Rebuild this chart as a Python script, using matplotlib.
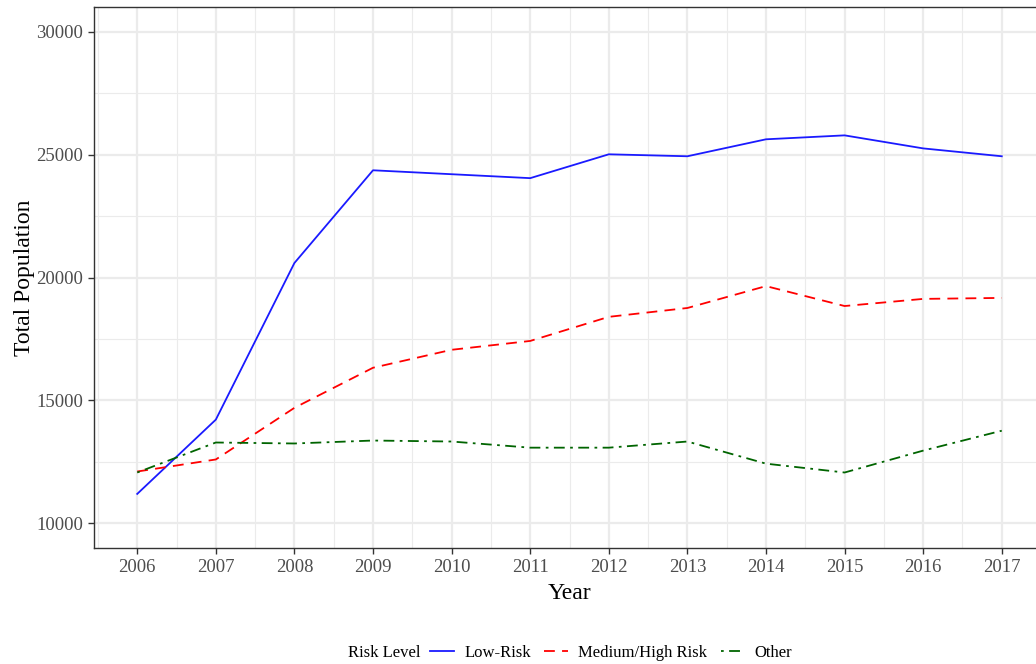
import matplotlib
matplotlib.use("Agg")
import matplotlib.pyplot as plt
from matplotlib.ticker import MultipleLocator

years = [2006, 2007, 2008, 2009, 2010, 2011, 2012, 2013, 2014, 2015, 2016, 2017]
low_risk = [11200, 14220, 20590, 24360, 24200, 24040, 25010, 24930, 25620, 25780, 25250, 24930]
medium_high = [12110, 12600, 14700, 16330, 17060, 17420, 18400, 18760, 19650, 18840, 19130, 19170]
other = [12070, 13290, 13250, 13370, 13330, 13080, 13080, 13330, 12430, 12070, 12960, 13770]

plt.rcParams["font.family"] = ["Liberation Serif", "DejaVu Serif"]

W, H = 1036, 664
fig = plt.figure(figsize=(W / 100, H / 100), dpi=100)
left, right, top, bottom = 94, 1045, 7, 548
ax = fig.add_axes([left / W, 1 - bottom / H, (right - left) / W, (bottom - top) / H])

ax.plot(years, low_risk, color="#1a1aff", lw=1.3, label="Low-Risk")
ax.plot(years, medium_high, color="#ff0000", lw=1.3, dashes=(6, 4), label="Medium/High Risk")
ax.plot(years, other, color="#006400", lw=1.3, dashes=(1.5, 3, 6, 3), label="Other")

ax.set_xlim(2005.45, 2017.55)
ax.set_ylim(9000, 31000)
ax.set_xticks(years)
ax.xaxis.set_minor_locator(MultipleLocator(0.5))
ax.yaxis.set_major_locator(MultipleLocator(5000))
ax.yaxis.set_minor_locator(MultipleLocator(2500))
ax.grid(which="major", color="#ebebeb", lw=1.6)
ax.grid(which="minor", color="#ebebeb", lw=0.8)
ax.set_axisbelow(True)
ax.tick_params(which="minor", length=0)
ax.tick_params(which="major", length=4, width=1, color="#333333",
               labelcolor="#4d4d4d", labelsize=13.5, pad=4)
for s in ax.spines.values():
    s.set_color("#333333")
    s.set_linewidth(1)

ax.set_xlabel("Year", fontsize=17, labelpad=5)
ax.set_ylabel("Total Population", fontsize=17, labelpad=1)

fig.text(348 / W, 1 - 653 / H, "Risk Level", fontsize=12, va="center", ha="left")
handles, labels = ax.get_legend_handles_labels()
fig.legend(handles, labels, loc="center left", bbox_to_anchor=(430 / W, 1 - 653 / H),
           ncol=3, frameon=False, fontsize=12, handlelength=1.45, handletextpad=0.6,
           columnspacing=0.8, borderpad=0, borderaxespad=0)

fig.savefig("out.png", dpi=100)
